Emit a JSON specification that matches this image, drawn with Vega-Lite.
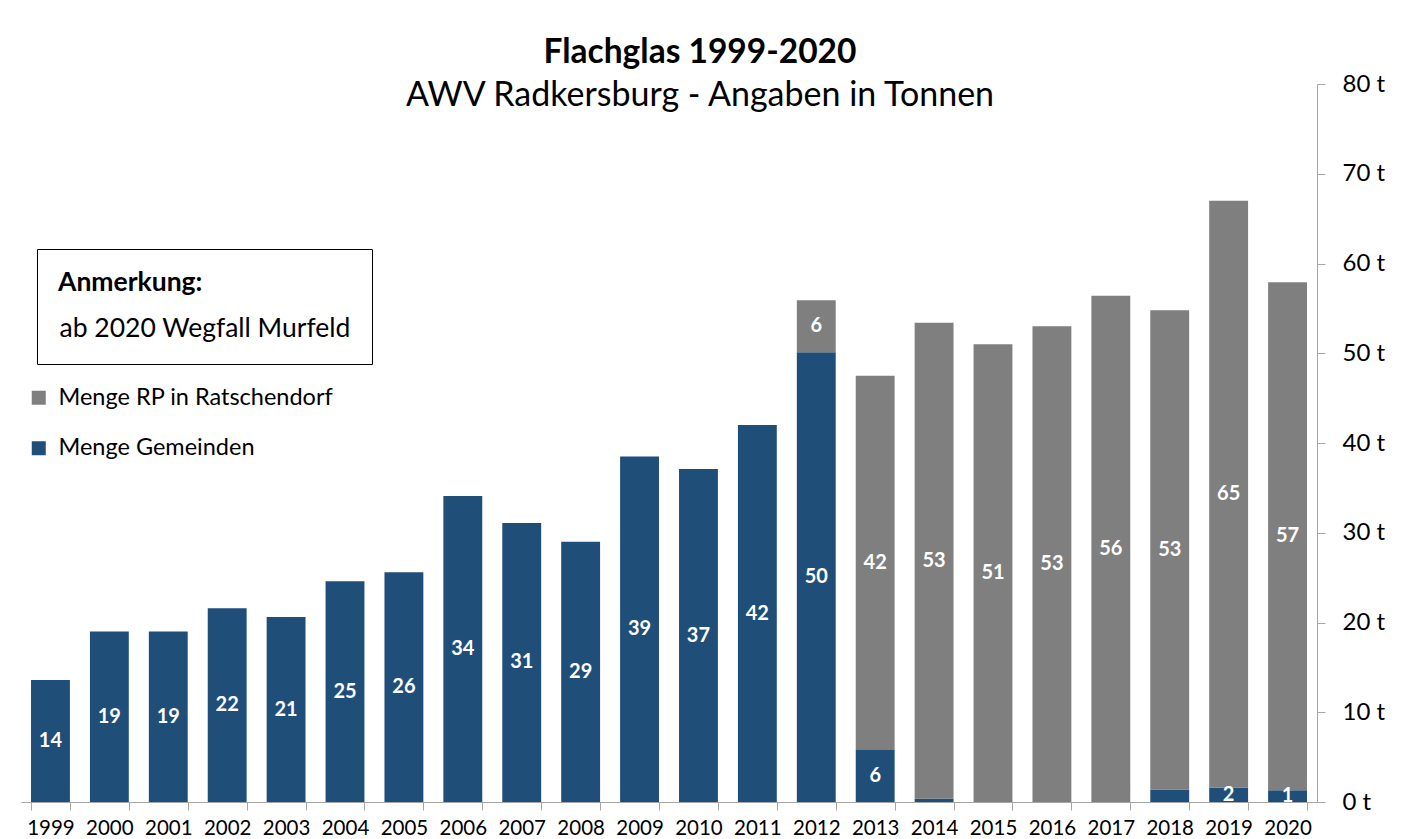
{
  "$schema": "https://vega.github.io/schema/vega-lite/v6.json",
  "width": 1296,
  "height": 718,
  "autosize": {"type": "none"},
  "padding": {"left": 21, "top": 84, "right": 88, "bottom": 37},
  "background": "white",
  "config": {"font": "Lato", "view": {"stroke": null}},
  "title": {
    "text": "Flachglas 1999-2020",
    "subtitle": "AWV Radkersburg - Angaben in Tonnen",
    "anchor": "middle",
    "frame": "group",
    "dx": 31,
    "offset": -42,
    "font": "Lato",
    "subtitleFont": "Lato",
    "fontSize": 33.5,
    "fontWeight": "bold",
    "color": "black",
    "subtitleFontSize": 34,
    "subtitleColor": "black",
    "subtitlePadding": 9
  },
  "data": {
    "values": [
      {"year": "1999", "series": "Menge Gemeinden", "value": 13.6, "label": "14"},
      {"year": "2000", "series": "Menge Gemeinden", "value": 19.0, "label": "19"},
      {"year": "2001", "series": "Menge Gemeinden", "value": 19.0, "label": "19"},
      {"year": "2002", "series": "Menge Gemeinden", "value": 21.6, "label": "22"},
      {"year": "2003", "series": "Menge Gemeinden", "value": 20.6, "label": "21"},
      {"year": "2004", "series": "Menge Gemeinden", "value": 24.6, "label": "25"},
      {"year": "2005", "series": "Menge Gemeinden", "value": 25.6, "label": "26"},
      {"year": "2006", "series": "Menge Gemeinden", "value": 34.1, "label": "34"},
      {"year": "2007", "series": "Menge Gemeinden", "value": 31.1, "label": "31"},
      {"year": "2008", "series": "Menge Gemeinden", "value": 29.0, "label": "29"},
      {"year": "2009", "series": "Menge Gemeinden", "value": 38.5, "label": "39"},
      {"year": "2010", "series": "Menge Gemeinden", "value": 37.1, "label": "37"},
      {"year": "2011", "series": "Menge Gemeinden", "value": 42.0, "label": "42"},
      {"year": "2012", "series": "Menge Gemeinden", "value": 50.1, "label": "50"},
      {"year": "2012", "series": "Menge RP in Ratschendorf", "value": 5.8, "label": "6"},
      {"year": "2013", "series": "Menge Gemeinden", "value": 5.8, "label": "6"},
      {"year": "2013", "series": "Menge RP in Ratschendorf", "value": 41.7, "label": "42"},
      {"year": "2014", "series": "Menge Gemeinden", "value": 0.4, "label": ""},
      {"year": "2014", "series": "Menge RP in Ratschendorf", "value": 53.0, "label": "53"},
      {"year": "2015", "series": "Menge Gemeinden", "value": 0, "label": ""},
      {"year": "2015", "series": "Menge RP in Ratschendorf", "value": 51.0, "label": "51"},
      {"year": "2016", "series": "Menge Gemeinden", "value": 0, "label": ""},
      {"year": "2016", "series": "Menge RP in Ratschendorf", "value": 53.0, "label": "53"},
      {"year": "2017", "series": "Menge Gemeinden", "value": 0, "label": ""},
      {"year": "2017", "series": "Menge RP in Ratschendorf", "value": 56.4, "label": "56"},
      {"year": "2018", "series": "Menge Gemeinden", "value": 1.4, "label": ""},
      {"year": "2018", "series": "Menge RP in Ratschendorf", "value": 53.4, "label": "53"},
      {"year": "2019", "series": "Menge Gemeinden", "value": 1.6, "label": "2"},
      {"year": "2019", "series": "Menge RP in Ratschendorf", "value": 65.4, "label": "65"},
      {"year": "2020", "series": "Menge Gemeinden", "value": 1.3, "label": "1"},
      {"year": "2020", "series": "Menge RP in Ratschendorf", "value": 56.6, "label": "57"}
    ]
  },
  "encoding": {
    "x": {
      "field": "year",
      "type": "ordinal",
      "scale": {"paddingInner": 0.34, "paddingOuter": 0.17},
      "axis": {
        "title": null,
        "labelAngle": 0,
        "labelFontSize": 20.5,
        "labelColor": "black",
        "labelPadding": 8,
        "tickBand": "extent",
        "tickSize": 8,
        "tickColor": "#A6A6A6",
        "domainColor": "#A6A6A6"
      }
    },
    "y": {
      "field": "value",
      "type": "quantitative",
      "stack": "zero",
      "scale": {"domain": [0, 80], "nice": false},
      "axis": {
        "orient": "right",
        "title": null,
        "grid": false,
        "values": [0, 10, 20, 30, 40, 50, 60, 70, 80],
        "labelExpr": "datum.value + ' t'",
        "labelFontSize": 24,
        "labelColor": "black",
        "labelPadding": 17,
        "tickSize": 8,
        "tickColor": "#A6A6A6",
        "domainColor": "#A6A6A6"
      }
    }
  },
  "layer": [
    {
      "mark": {"type": "bar"},
      "encoding": {
        "order": {"field": "series", "type": "nominal", "sort": "ascending"},
        "color": {
          "field": "series",
          "type": "nominal",
          "scale": {
            "domain": ["Menge RP in Ratschendorf", "Menge Gemeinden"],
            "range": ["#7F7F7F", "#1F4E79"]
          },
          "legend": {
            "orient": "none",
            "legendX": 6,
            "legendY": 302,
            "title": null,
            "symbolType": "square",
            "symbolSize": 196,
            "symbolStrokeWidth": 0,
            "labelFontSize": 23.5,
            "labelColor": "black",
            "labelOffset": 8,
            "labelLimit": 500,
            "rowPadding": 25.5,
            "padding": 0
          }
        }
      }
    },
    {
      "mark": {"type": "text", "color": "white", "fontWeight": "bold", "fontSize": 20, "baseline": "middle"},
      "encoding": {
        "order": {"field": "series", "type": "nominal", "sort": "ascending"},
        "y": {"field": "value", "type": "quantitative", "stack": "zero", "bandPosition": 0.5},
        "text": {"field": "label", "type": "nominal"},
        "detail": {"field": "series", "type": "nominal"}
      }
    },
    {
      "data": {"values": [{"year": "2020", "value": 0, "note": "ab 2020 Wegfall Murfeld\u00a0\u00a0\u00a0\u00a0\u00a0\u00a0\u00a0\u00a0\u00a0\u00a0\u00a0\u00a0"}]},
      "mark": {"type": "point", "opacity": 0},
      "encoding": {
        "y": {"field": "value", "type": "quantitative"},
        "shape": {
          "field": "note",
          "type": "nominal",
          "legend": {
            "orient": "none",
            "legendX": 16,
            "legendY": 165,
            "title": "Anmerkung:",
            "titleFontSize": 26.5,
            "titleFontWeight": "bold",
            "titleColor": "black",
            "titlePadding": 19,
            "labelFontSize": 26.5,
            "labelColor": "black",
            "labelOffset": -25,
            "labelLimit": 600,
            "symbolSize": 0,
            "symbolOpacity": 0,
            "strokeColor": "black",
            "fillColor": "white",
            "padding": 21
          }
        }
      }
    }
  ]
}
